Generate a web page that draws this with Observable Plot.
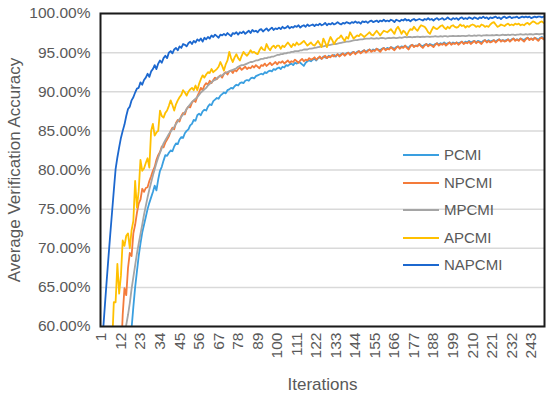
<!DOCTYPE html>
<html><head><meta charset="utf-8">
<script src="https://cdn.jsdelivr.net/npm/d3@7"></script>
<script src="https://cdn.jsdelivr.net/npm/@observablehq/plot@0.6"></script>
<style>
body{margin:0;background:#fff;font-family:"Liberation Sans",Arial,Helvetica,sans-serif;}
#wrap{position:relative;width:550px;height:397px;}
#legend{position:absolute;left:403px;top:0;}
.li{position:absolute;left:0;width:140px;height:20px;font-size:15px;color:#595959;white-space:nowrap;}
.li .sw{position:absolute;left:0;top:9px;width:36px;height:0;border-top:2px solid;}
.li .lb{position:absolute;left:41px;top:1px;}
svg [aria-label="y-axis label"] text, svg [aria-label="x-axis label"] text{font-size:17px;}
</style></head>
<body><div id="wrap"></div>
<script>
const seriesNames = ["PCMI","NPCMI","MPCMI","APCMI","NAPCMI"];
const seriesColors = ["#3a9fe0","#f47b3a","#a5a5a5","#ffc000","#1c68cf"];
const xTicks = [1,12,23,34,45,56,67,78,89,100,111,122,133,144,155,166,177,188,199,210,221,232,243];
const yTicks = [60,65,70,75,80,85,90,95,100];

const PCMI = [
null,null,null,null,null,null,null,null,null,null,
null,null,null,null,null,null,57.0,59.8,62.5,65.0,
67.0,69.0,70.6,72.0,73.0,74.0,75.0,75.8,76.5,77.2,
78.0,77.4,78.8,79.9,80.4,81.2,81.9,81.8,82.2,82.5,
82.4,83.0,83.4,83.3,83.9,84.2,84.1,84.7,85.0,85.2,
85.7,85.9,86.4,86.3,87.0,87.2,87.0,87.5,87.7,87.6,
88.1,88.4,88.3,88.8,89.0,89.2,89.1,89.5,89.7,89.9,
89.8,90.2,90.3,90.5,90.4,90.7,90.9,90.8,91.1,91.2,
91.1,91.4,91.5,91.4,91.7,91.8,91.7,92.0,92.1,92.2,
92.3,92.2,92.5,92.4,92.6,92.7,92.6,92.9,92.8,93.0,
93.1,92.9,93.2,93.1,93.4,93.3,93.5,93.6,93.4,93.7,
93.6,93.8,93.7,93.5,93.3,93.7,93.9,94.0,93.9,94.1,
94.2,94.0,94.3,94.4,94.2,94.5,94.4,94.3,94.6,94.5,
94.6,94.7,94.5,94.8,94.6,94.8,94.9,94.7,94.9,95.0,
94.8,95.0,95.1,94.9,95.1,95.2,95.0,95.2,95.3,95.1,
95.3,95.4,95.2,95.4,95.3,95.5,95.4,95.3,95.5,95.6,
95.4,95.6,95.5,95.7,95.6,95.5,95.7,95.8,95.6,95.8,
95.7,95.9,95.7,95.6,95.9,96.0,95.8,95.9,95.9,96.1,
95.9,95.8,96.0,96.1,95.9,96.1,96.0,95.9,96.1,96.2,
96.0,96.2,96.1,96.3,96.1,96.2,96.3,96.1,96.3,96.2,
96.3,96.2,96.3,96.4,96.2,96.4,96.3,96.5,96.3,96.4,
96.5,96.3,96.5,96.4,96.3,96.5,96.6,96.4,96.6,96.4,
96.5,96.6,96.4,96.6,96.7,96.5,96.6,96.5,96.6,96.7,
96.5,96.7,96.8,96.6,96.7,96.6,96.8,96.7,96.6,96.8,
96.9,96.7,96.8,96.7,96.9,96.8,96.6,96.9,97.0,96.8];

const NPCMI = [
null,null,null,null,null,null,null,null,null,null,
null,56.0,61.5,64.9,64.0,67.5,69.4,69.0,71.9,73.0,
74.5,75.7,76.2,77.6,77.2,77.7,77.8,78.6,79.2,79.9,
80.4,81.3,81.9,82.3,83.0,82.9,83.5,83.9,84.3,85.0,
85.4,85.2,86.0,86.4,86.2,86.9,87.3,87.1,87.8,88.1,
88.0,88.6,88.9,88.7,89.4,89.9,90.5,90.2,90.8,91.1,
90.9,91.4,91.1,91.5,91.8,91.6,91.9,92.1,91.8,92.3,
92.5,92.2,92.6,92.7,92.4,92.8,92.6,92.9,93.1,92.8,
93.0,93.2,92.9,93.1,93.0,93.3,93.1,93.4,93.2,93.0,
93.4,93.3,93.6,93.3,93.5,93.7,93.4,93.6,93.8,93.5,
93.8,93.7,93.9,93.6,93.8,94.0,93.7,93.9,93.8,94.1,
93.9,93.7,94.0,94.2,93.9,94.1,94.0,94.3,94.1,94.2,
94.4,94.1,94.3,94.5,94.2,94.4,94.6,94.3,94.5,94.4,
94.7,94.5,94.6,94.8,94.5,94.7,94.9,94.6,94.8,95.0,
94.7,94.9,95.1,94.8,95.0,95.2,94.9,95.1,95.3,95.0,
95.2,95.4,95.1,95.3,95.2,95.5,95.3,95.1,95.4,95.6,
95.3,95.5,95.4,95.7,95.5,95.3,95.6,95.8,95.5,95.7,
95.6,95.9,95.6,95.4,95.8,96.0,95.7,95.9,95.8,96.1,
95.8,95.6,95.9,96.1,95.8,96.0,95.9,95.7,96.0,96.2,
95.9,96.1,96.0,96.2,95.9,96.1,96.3,96.0,96.2,96.1,
96.3,96.0,96.2,96.4,96.1,96.3,96.2,96.4,96.1,96.3,
96.5,96.2,96.4,96.3,96.1,96.4,96.6,96.3,96.5,96.3,
96.4,96.6,96.3,96.5,96.7,96.4,96.6,96.4,96.5,96.7,
96.4,96.6,96.8,96.5,96.7,96.5,96.8,96.6,96.4,96.7,
96.9,96.6,96.8,96.6,96.9,96.7,96.5,96.8,96.9,96.7];

const MPCMI = [
null,null,null,null,null,null,null,null,null,null,
null,null,null,58.6,60.2,61.5,63.0,64.8,66.3,67.8,
69.3,70.6,71.8,73.0,74.3,75.4,76.5,77.5,78.4,79.3,
80.1,80.9,81.6,82.2,82.8,83.4,83.8,84.2,84.6,84.9,
85.2,85.5,85.9,86.2,86.5,86.8,87.1,87.4,87.8,88.1,
88.4,88.7,88.9,89.1,89.3,89.6,89.9,90.1,90.3,90.5,
90.8,91.0,91.2,91.4,91.5,91.7,91.9,92.0,92.1,92.3,
92.4,92.5,92.6,92.7,92.8,92.9,93.0,93.2,93.3,93.4,
93.4,93.5,93.6,93.7,93.8,93.8,93.9,94.0,94.0,94.1,
94.2,94.2,94.3,94.3,94.4,94.4,94.5,94.5,94.6,94.7,
94.7,94.8,94.8,94.9,94.9,95.0,95.0,95.1,95.1,95.2,
95.2,95.2,95.3,95.3,95.4,95.4,95.4,95.5,95.5,95.55,
95.6,95.65,95.7,95.75,95.8,95.8,95.85,95.9,95.95,96.0,
96.05,96.1,96.1,96.15,96.2,96.25,96.3,96.35,96.4,96.4,
96.45,96.5,96.55,96.6,96.6,96.65,96.7,96.7,96.75,96.8,
96.8,96.8,96.85,96.8,96.8,96.85,96.8,96.85,96.9,96.85,
96.8,96.85,96.9,96.85,96.9,96.9,96.85,96.9,96.95,96.9,
96.95,97.0,96.95,97.0,97.0,96.95,97.0,97.0,97.05,97.0,
97.0,97.05,97.0,97.05,97.05,97.0,97.05,97.05,97.1,97.05,
97.05,97.1,97.05,97.1,97.1,97.05,97.1,97.1,97.15,97.1,
97.1,97.15,97.1,97.15,97.15,97.1,97.15,97.2,97.15,97.15,
97.2,97.15,97.2,97.2,97.15,97.2,97.2,97.25,97.2,97.2,
97.25,97.2,97.25,97.25,97.2,97.25,97.3,97.25,97.25,97.3,
97.25,97.3,97.3,97.25,97.3,97.3,97.35,97.3,97.3,97.35,
97.3,97.35,97.35,97.3,97.35,97.4,97.35,97.35,97.4,97.4];

const APCMI = [
null,null,null,null,null,null,57.5,63.1,63.1,68.0,
64.2,66.5,71.0,70.3,71.6,71.9,70.0,72.3,73.5,78.6,
75.2,77.3,81.3,79.9,80.2,80.9,81.5,80.3,85.0,85.9,
84.4,84.8,85.0,87.6,86.9,86.7,87.3,87.6,88.2,88.9,
88.3,87.6,88.4,88.9,89.3,89.6,90.2,89.9,89.5,90.0,
90.3,90.5,90.2,90.8,90.2,91.0,91.6,92.1,91.8,92.2,
92.5,92.4,92.9,92.5,92.7,92.9,93.2,93.8,93.3,92.7,
93.5,94.0,95.1,94.3,93.8,94.4,94.8,94.3,94.0,94.6,
95.1,94.8,94.6,94.9,95.3,95.0,95.1,94.9,94.8,95.3,
95.7,95.4,95.3,96.1,95.6,95.3,95.7,95.9,95.6,95.9,
95.9,95.5,95.9,95.7,96.0,96.3,96.0,95.7,96.1,95.9,
96.3,96.0,96.1,96.3,96.5,96.2,95.9,96.1,96.3,96.0,
95.9,96.2,96.5,96.1,95.7,96.8,96.3,95.7,96.4,97.0,
96.6,96.1,96.5,96.8,96.9,97.2,96.8,96.5,97.0,96.8,
97.6,97.2,96.8,97.0,97.2,97.1,97.4,97.2,97.0,97.2,
97.4,97.6,97.3,97.2,97.5,97.8,97.5,97.2,97.5,97.8,
97.7,97.6,97.8,98.0,97.7,97.4,98.0,98.3,97.9,97.4,
97.8,97.6,97.2,97.7,98.0,97.9,98.3,98.0,97.8,98.2,
98.5,98.4,98.3,98.0,97.6,97.4,97.9,98.3,98.1,98.0,
98.2,98.4,98.5,98.2,98.0,98.3,98.1,98.4,98.5,98.3,
98.2,98.3,98.6,98.4,98.5,98.2,98.4,98.3,98.5,98.6,
98.5,98.3,98.4,98.3,98.6,98.5,98.3,98.4,98.3,98.6,
98.8,98.9,98.6,98.3,98.4,98.6,98.5,98.4,98.6,98.7,
98.5,98.6,98.5,98.7,98.6,98.7,98.5,98.6,98.5,98.7,
98.8,98.6,98.8,99.0,98.9,98.7,98.7,98.9,99.0,98.8];

const NAPCMI = [
56.0,59.6,62.8,65.9,68.9,71.8,74.6,77.4,80.1,81.6,
82.9,84.1,85.0,85.8,86.9,87.8,88.1,88.9,89.3,89.9,
90.4,90.5,91.2,90.9,91.5,91.8,92.3,91.9,92.6,92.9,
93.4,92.9,93.6,94.0,93.7,94.3,94.6,94.3,95.0,95.2,
94.9,95.4,95.6,95.3,95.8,95.6,96.1,96.0,95.8,96.2,
96.4,96.1,96.5,96.3,96.7,96.5,96.8,96.4,96.9,96.7,
97.0,96.8,97.2,97.0,97.3,97.1,96.9,97.3,97.2,97.4,
97.2,97.5,97.3,97.1,97.5,97.4,97.6,97.3,97.6,97.5,
97.7,97.4,97.6,97.8,97.5,97.9,97.7,97.8,97.6,97.9,
98.0,97.7,97.9,98.1,97.8,98.0,98.2,97.9,98.1,98.0,
98.2,98.0,98.3,98.1,98.2,98.4,98.1,98.3,98.2,98.4,
98.3,98.5,98.2,98.4,98.5,98.3,98.6,98.4,98.5,98.6,
98.4,98.6,98.5,98.7,98.5,98.6,98.8,98.5,98.7,98.6,
98.8,98.6,98.7,98.9,98.7,98.6,98.8,98.7,98.9,98.8,
98.7,98.9,98.8,99.0,98.8,98.9,98.7,99.0,98.9,99.0,
98.8,99.0,99.1,98.9,99.0,99.1,98.9,99.1,99.0,99.2,
99.0,99.1,99.0,99.2,99.1,98.9,99.2,99.1,99.0,99.2,
99.1,99.3,99.1,99.2,99.0,99.2,99.3,99.1,99.2,99.3,
99.2,99.1,99.3,99.2,99.4,99.2,99.3,99.1,99.3,99.4,
99.2,99.3,99.4,99.2,99.3,99.5,99.3,99.2,99.4,99.3,
99.4,99.2,99.4,99.5,99.3,99.4,99.3,99.5,99.4,99.3,
99.5,99.4,99.3,99.5,99.4,99.6,99.4,99.5,99.3,99.5,
99.4,99.5,99.6,99.4,99.5,99.3,99.5,99.6,99.4,99.5,
99.6,99.4,99.5,99.5,99.6,99.4,99.5,99.6,99.5,99.6,
99.5,99.6,99.4,99.5,99.6,99.5,99.6,99.6,99.5,99.6];

const seriesValues = [PCMI, NPCMI, MPCMI, APCMI, NAPCMI];
const rows = seriesNames.flatMap((name, s) =>
  seriesValues[s].map((v, i) => ({series: name, iter: i + 1, value: v})));

const fmt = d => d.toFixed(2) + "%";
const chart = Plot.plot({
  width: 550, height: 397,
  marginLeft: 100, marginRight: 6, marginTop: 13, marginBottom: 71,
  style: {fontFamily: '"Liberation Sans", Arial, Helvetica, sans-serif', fontSize: "15.5px", color: "#595959", background: "#fff", overflow: "visible"},
  x: {domain: [0.5, 250.5]},
  y: {domain: [60, 100]},
  color: {domain: seriesNames, range: seriesColors},
  marks: [
    Plot.gridY(yTicks, {stroke: "#d9d9d9", strokeOpacity: 1, strokeWidth: 1.5}),
    Plot.axisY(yTicks, {tickSize: 0, tickPadding: 10, tickFormat: fmt, fontSize: 15.5, fill: "#595959",
      label: "Average Verification Accuracy", labelAnchor: "center", labelOffset: 93, labelArrow: "none"}),
    Plot.axisX(xTicks, {tickSize: 0, tickPadding: 6, tickRotate: -90, fontSize: 15.5, fill: "#595959",
      label: "Iterations", labelAnchor: "center", labelOffset: 63, labelArrow: "none"}),
    Plot.lineY(rows, {x: "iter", y: "value", z: "series", stroke: "series", strokeWidth: 1.8, clip: true}),
    Plot.frame({stroke: "#1a1a1a", strokeWidth: 2})
  ]
});
const wrap = document.getElementById("wrap");
wrap.appendChild(chart);

const legend = document.createElement("div");
legend.id = "legend";
seriesNames.forEach((name, i) => {
  const item = document.createElement("div");
  item.className = "li";
  item.style.top = (145 + i * 27.5) + "px";
  item.innerHTML = `<span class="sw" style="border-color:${seriesColors[i]}"></span><span class="lb">${name}</span>`;
  legend.appendChild(item);
});
wrap.appendChild(legend);
</script>
</body></html>
